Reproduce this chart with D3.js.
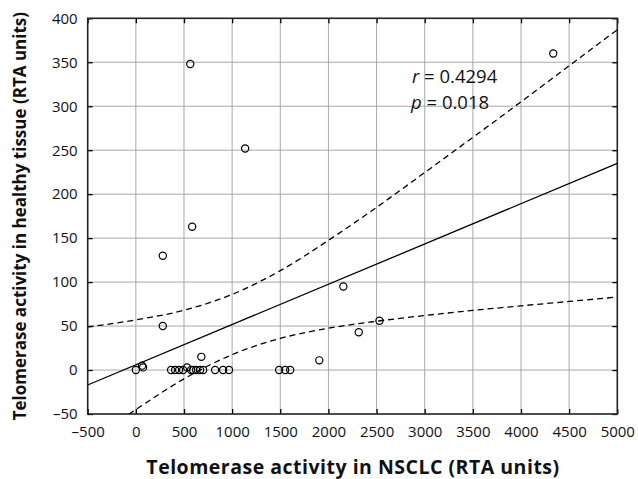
<!DOCTYPE html>
<html><head><meta charset="utf-8">
<script src="https://cdn.jsdelivr.net/npm/d3@7"></script>
<style>body{margin:0;background:#fff}svg{display:block}</style>
</head><body>
<svg id="c" width="638" height="479"></svg>
<script>
// Data
const nsclc   = [0, 65, 75, 280, 280, 565, 585, 1135, 680, 366, 408, 449, 491, 532, 574, 595, 626, 667, 699, 823, 906, 968, 1488, 1551, 1603, 1905, 2155, 2315, 2530, 4335];
const healthy = [0, 5, 3, 50, 130, 348, 163, 252, 15, 0, 0, 0, 0, 3, 0, 0, 0, 0, 0, 0, 0, 0, 0, 0, 0, 11, 95, 43, 56, 360];
const fitX    = [-500, 5000];
const fitY    = [-17, 235];
const bandX   = [-500, 0, 500, 1000, 1500, 2000, 2500, 3000, 3500, 4000, 4500, 5000];
const bandUp  = [49, 57, 68, 86, 113, 147.5, 185, 224.6, 264.6, 305, 346, 387];
const bandLo  = [-83, -45, -10, 17.5, 36, 47.5, 55.5, 62, 67.8, 73, 78, 83];
const xTicks  = [-500, 0, 500, 1000, 1500, 2000, 2500, 3000, 3500, 4000, 4500, 5000];
const yTicks  = [-50, 0, 50, 100, 150, 200, 250, 300, 350, 400];
const statR = "0.4294", statP = "0.018";

const svg = d3.select("#c");
const L = 87.7, R = 617.3, T = 18.3, B = 414;
const x = d3.scaleLinear().domain([-500, 5000]).range([L, R]);
const y = d3.scaleLinear().domain([-50, 400]).range([B, T]);
const font = "'Open Sans', 'Noto Sans', sans-serif";

svg.append("defs").append("clipPath").attr("id", "clip")
  .append("rect").attr("x", L).attr("y", T).attr("width", R - L).attr("height", B - T);

// gridlines
const g = svg.append("g");
g.selectAll(".gx").data(xTicks.slice(1, -1)).join("line")
  .attr("x1", d => x(d)).attr("x2", d => x(d)).attr("y1", T).attr("y2", B)
  .attr("stroke", "#a8a8a8").attr("stroke-width", 1);
g.selectAll(".gy").data(yTicks.slice(1, -1)).join("line")
  .attr("y1", d => y(d)).attr("y2", d => y(d)).attr("x1", L).attr("x2", R)
  .attr("stroke", "#a8a8a8").attr("stroke-width", 1);

// axes with inner ticks
const fmt = d => d < 0 ? "\u2013" + Math.abs(d) : d;
const axB = svg.append("g").attr("transform", `translate(0,${B})`)
  .call(d3.axisBottom(x).tickValues(xTicks).tickSizeInner(-5).tickSizeOuter(0).tickPadding(12).tickFormat(fmt));
const axT = svg.append("g").attr("transform", `translate(0,${T})`)
  .call(d3.axisTop(x).tickValues(xTicks).tickSizeInner(-5).tickSizeOuter(0).tickFormat(""));
const axL = svg.append("g").attr("transform", `translate(${L},0)`)
  .call(d3.axisLeft(y).tickValues(yTicks).tickSizeInner(-5).tickSizeOuter(0).tickPadding(10).tickFormat(fmt));
const axR = svg.append("g").attr("transform", `translate(${R},0)`)
  .call(d3.axisRight(y).tickValues(yTicks).tickSizeInner(-5).tickSizeOuter(0).tickFormat(""));
[axB, axT, axL, axR].forEach(a => {
  a.select(".domain").remove();
  a.selectAll("line").attr("stroke", "#000").attr("stroke-width", 1.3);
  a.selectAll("text").attr("fill", "#111").style("font-family", font).style("font-size", "15px");
});
svg.append("rect").attr("x", L).attr("y", T).attr("width", R - L).attr("height", B - T)
  .attr("fill", "none").attr("stroke", "#222").attr("stroke-width", 1.6);

// regression line and confidence band
const plot = svg.append("g").attr("clip-path", "url(#clip)");
const ln = d3.line().x(d => x(d[0])).y(d => y(d[1]));
const lnC = d3.line().x(d => x(d[0])).y(d => y(d[1])).curve(d3.curveMonotoneX);
plot.append("path").attr("d", ln(fitX.map((v, i) => [v, fitY[i]])))
  .attr("fill", "none").attr("stroke", "#000").attr("stroke-width", 1.3);
[bandUp, bandLo].forEach(arr => {
  plot.append("path").attr("d", lnC(bandX.map((v, i) => [v, arr[i]])))
    .attr("fill", "none").attr("stroke", "#000").attr("stroke-width", 1.3)
    .attr("stroke-dasharray", "6,4");
});

// points
svg.append("g").selectAll("circle").data(nsclc.map((v, i) => [v, healthy[i]])).join("circle")
  .attr("cx", d => x(d[0])).attr("cy", d => y(d[1])).attr("r", 3.6)
  .attr("fill", "none").attr("stroke", "#000").attr("stroke-width", 1.2);

// annotation
const ann = svg.append("g").style("font-family", font).style("font-size", "18.5px").attr("fill", "#111");
const t1 = ann.append("text").attr("x", 412).attr("y", 83);
t1.append("tspan").attr("font-style", "italic").text("r");
t1.append("tspan").text(" = " + statR);
const t2 = ann.append("text").attr("x", 411).attr("y", 109);
t2.append("tspan").attr("font-style", "italic").text("p");
t2.append("tspan").text(" = " + statP);

// axis titles
svg.append("text").attr("x", 353).attr("y", 474).attr("text-anchor", "middle")
  .style("font-family", font).style("font-size", "19.5px").style("font-weight", "bold")
  .style("letter-spacing", "0.5px").attr("fill", "#111")
  .text("Telomerase activity in NSCLC (RTA units)");
svg.append("text").attr("transform", `translate(26,${(T + B) / 2 + 0}) rotate(-90)`).attr("text-anchor", "middle")
  .style("font-family", font).style("font-size", "17px").style("font-weight", "bold").attr("fill", "#111")
  .text("Telomerase activity in healthy tissue (RTA units)");
</script>
</body></html>
